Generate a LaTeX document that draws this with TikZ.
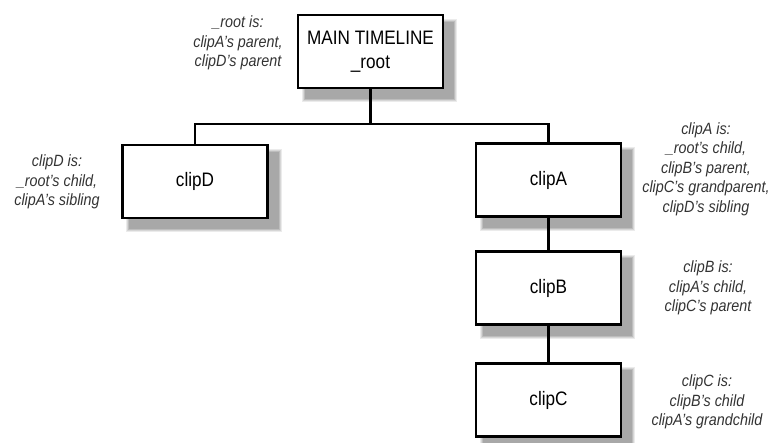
\documentclass[tikz,border=0pt]{standalone}
\usepackage{fontspec}
\usetikzlibrary{backgrounds}
\setmainfont{Liberation Sans}[FakeStretch=0.88]
\begin{document}
\begin{tikzpicture}[x=1pt,y=-1pt,
  box/.style={draw=black, line width=2.4pt, fill=white, minimum width=145pt, minimum height=73pt,
    inner sep=0pt, align=center, font=\fontsize{19.5}{24}\selectfont},
  note/.style={align=center, inner sep=0pt, text=black!80, font=\itshape\fontsize{16.3}{19.5}\selectfont},
  link/.style={line width=2.4pt, draw=black}]
\useasboundingbox (0,0) rectangle (771,443);

\node[box] (root)  at (370.5,51.5) {MAIN TIMELINE\\\_root};
\node[box] (clipD) at (195,181.5) {clipD};
\node[box] (clipA) at (548.5,180) {clipA};
\node[box] (clipB) at (548.5,288) {clipB};
\node[box] (clipC) at (548.5,400) {clipC};

\begin{scope}[on background layer]
\foreach \n in {root,clipD,clipA,clipB,clipC}{
  \fill[black!8]  ([shift={(5,5)}]\n.north west) rectangle ([shift={(13,13)}]\n.south east);
  \fill[black!16] ([shift={(6,6)}]\n.north west) rectangle ([shift={(12,12)}]\n.south east);
  \fill[black!26] ([shift={(7,7)}]\n.north west) rectangle ([shift={(11,11)}]\n.south east);
  \fill[black!34] ([shift={(8,8)}]\n.north west) rectangle ([shift={(10,10)}]\n.south east);
}
\end{scope}

\coordinate (bus) at (370.5,124);
\draw[link] (root.south) -- (bus);
\draw[link] (clipD.north) |- (bus) -| (clipA.north);
\draw[link] (clipA.south) -- (clipB.north);
\draw[link] (clipB.south) -- (clipC.north);

\node[note] (nroot) at (238,43) {\_root is:\\clipA's parent,\\clipD's parent};
\node[note] (nD) at (57,182) {clipD is:\\\_root's child,\\clipA's sibling};
\node[note] (nA) at (706,169) {clipA is:\\\_root's child,\\clipB's parent,\\clipC's grandparent,\\clipD's sibling};
\node[note] (nB) at (708,288) {clipB is:\\clipA's child,\\clipC's parent};
\node[note] (nC) at (707,402) {clipC is:\\clipB's child\\clipA's grandchild};
\end{tikzpicture}
\end{document}
